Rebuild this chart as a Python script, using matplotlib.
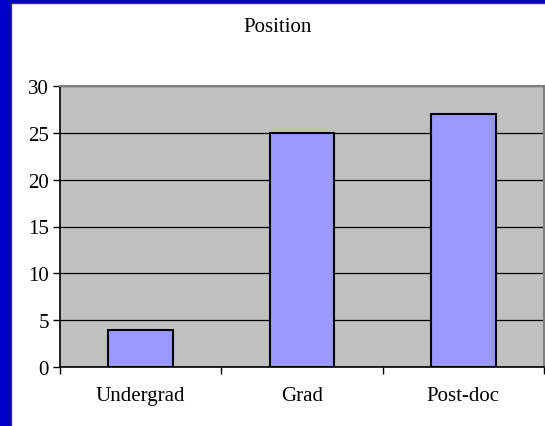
import matplotlib.pyplot as plt
from matplotlib.patches import Rectangle

categories = ["Undergrad", "Grad", "Post-doc"]
counts = [4, 25, 27]
y_ticks = [0, 5, 10, 15, 20, 25, 30]

plt.rcParams["font.family"] = ["Liberation Serif", "DejaVu Serif"]

fig = plt.figure(figsize=(5.45, 4.27), dpi=100)
fig.patch.set_facecolor("#0000C8")

# white chart area inside the blue frame
fig.patches.append(Rectangle((11 / 545, -0.1), 1, 1.1 - 4 / 427, transform=fig.transFigure,
                             facecolor="white", edgecolor="#404040", linewidth=1, zorder=-10))

ax = fig.add_axes([60 / 545, 59 / 427, 484 / 545, 281 / 427])
ax.set_facecolor("#C0C0C0")

x = range(len(categories))
ax.bar(x, counts, width=0.4, color="#9999FF", edgecolor="black", linewidth=1.5, zorder=3)

ax.set_xlim(-0.5, len(categories) - 0.5)
ax.set_ylim(0, 30)
ax.set_yticks(y_ticks)
ax.yaxis.grid(True, color="black", linewidth=0.9, zorder=1)
ax.set_axisbelow(True)

ax.set_xticks(list(x))
ax.set_xticklabels(categories, fontsize=15)
ax.set_xticks([-0.5, 0.5, 1.5, 2.5], minor=True)
ax.tick_params(axis="x", which="major", length=0, pad=14)
ax.tick_params(axis="x", which="minor", length=5, width=1, direction="out")
ax.tick_params(axis="y", labelsize=15, length=5, width=1, direction="out", pad=3)

for side in ["left", "bottom"]:
    ax.spines[side].set_color("black")
    ax.spines[side].set_linewidth(1.2)
for side in ["top", "right"]:
    ax.spines[side].set_color("#808080")
    ax.spines[side].set_linewidth(1.5)

fig.text(278 / 545, 1 - 28 / 427, "Position", ha="center", va="center", fontsize=15)

fig.savefig("out.png", dpi=100, facecolor=fig.get_facecolor())
